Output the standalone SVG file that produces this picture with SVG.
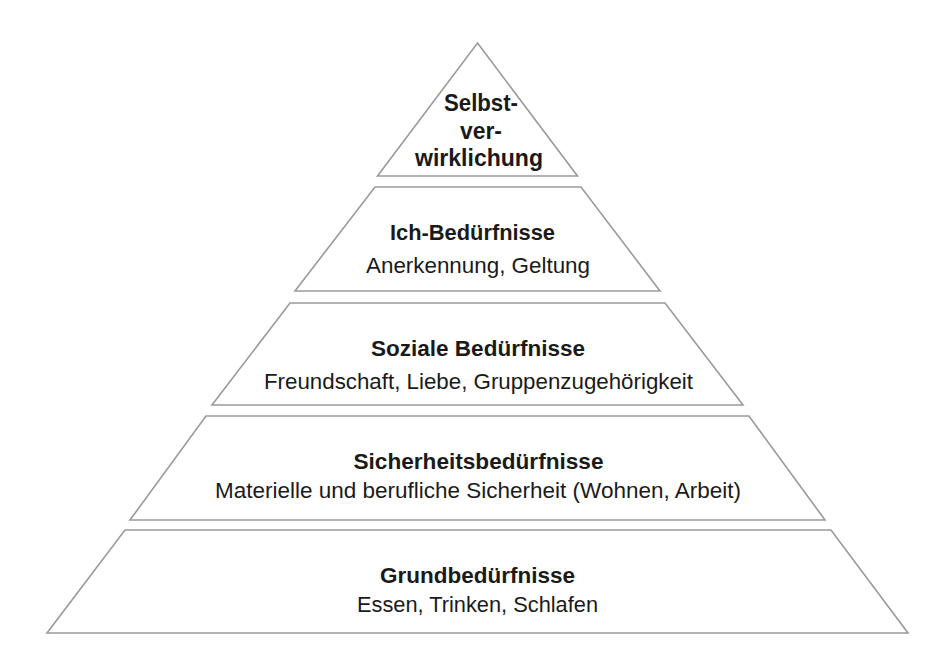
<svg xmlns="http://www.w3.org/2000/svg" width="949" height="649" viewBox="0 0 949 649">
<style>
.shape{fill:#ffffff;stroke:#9a9a9a;stroke-width:1.6;stroke-linejoin:miter}
.t{font-family:"Liberation Sans",Arial,sans-serif;font-size:22.5px;fill:#1a1a1a;text-anchor:middle}
.b{font-weight:bold}
</style>
<rect width="949" height="649" fill="#ffffff"/>
<g id="selbstverwirklichung">
<polygon class="shape" points="477.5,43 577.5,176 377.5,176"/>
<text class="t b" x="481" y="111" style="font-size:23px" textLength="74" lengthAdjust="spacingAndGlyphs">Selbst-</text>
<text class="t b" x="481" y="139" style="font-size:23px" textLength="42" lengthAdjust="spacingAndGlyphs">ver-</text>
<text class="t b" x="479" y="166" style="font-size:23px" textLength="128" lengthAdjust="spacingAndGlyphs">wirklichung</text>
</g>
<g id="ich-beduerfnisse">
<polygon class="shape" points="375,187 581,187 660,291 295,291"/>
<text class="t b" x="472.5" y="240" textLength="165" lengthAdjust="spacingAndGlyphs">Ich-Bedürfnisse</text>
<text class="t" x="478" y="273" textLength="224" lengthAdjust="spacingAndGlyphs">Anerkennung, Geltung</text>
</g>
<g id="soziale-beduerfnisse">
<polygon class="shape" points="290,303 665,303 743,405 212,405"/>
<text class="t b" x="478" y="356" textLength="214" lengthAdjust="spacingAndGlyphs">Soziale Bedürfnisse</text>
<text class="t" x="478.5" y="389" textLength="429" lengthAdjust="spacingAndGlyphs">Freundschaft, Liebe, Gruppenzugehörigkeit</text>
</g>
<g id="sicherheitsbeduerfnisse">
<polygon class="shape" points="206,416 749,416 825,520 130,520"/>
<text class="t b" x="478.5" y="469" textLength="250" lengthAdjust="spacingAndGlyphs">Sicherheitsbedürfnisse</text>
<text class="t" x="478" y="498" textLength="526" lengthAdjust="spacingAndGlyphs">Materielle und berufliche Sicherheit (Wohnen, Arbeit)</text>
</g>
<g id="grundbeduerfnisse">
<polygon class="shape" points="125,530 831,530 908,633 47,633"/>
<text class="t b" x="477.5" y="583" textLength="195" lengthAdjust="spacingAndGlyphs">Grundbedürfnisse</text>
<text class="t" x="477.5" y="612" textLength="241" lengthAdjust="spacingAndGlyphs">Essen, Trinken, Schlafen</text>
</g>
<g id="connectors"/>
</svg>
